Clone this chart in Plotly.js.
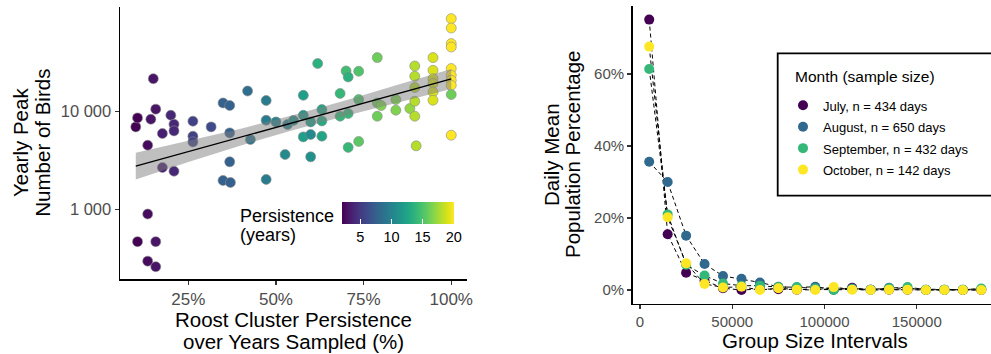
<!DOCTYPE html>
<html>
<head>
<meta charset="utf-8">
<script src="https://cdn.plot.ly/plotly-3.0.1.min.js"></script>
<style>html,body{margin:0;padding:0;background:#fff}#chart{width:991px;height:354px}</style>
</head>
<body>
<div id="chart"></div>
<script>
// ---------- Left panel data ----------
const persistPct = [10.0,10.5,10.5,13.4,13.4,13.4,14.3,15.0,15.7,15.7,15.7,17.6,17.6,20.0,20.9,20.9,20.9,
  26.3,26.3,26.3,31.5,34.9,36.8,36.8,36.8,34.9,37.0,41.9,42.7,47.2,47.2,47.2,50.0,52.6,53.3,55.0,
  57.8,57.8,57.8,59.9,59.9,59.9,61.9,63.1,63.1,63.1,68.3,68.3,70.0,70.6,70.6,70.6,73.6,73.6,73.6,
  78.9,78.9,78.9,80.0,84.2,84.2,88.2,89.6,89.6,89.6,89.6,89.6,90.0,94.8,94.8,94.8,94.8,94.8,94.8,
  100,100,100,100,100,100,100,100,100,100];
const peakBirds = [6920,8550,465,4500,890,294,8280,21500,10500,465,258,5920,2660,9100,7370,6300,2440,
  7910,5560,4860,6920,12150,11430,6010,3040,1960,1870,16100,5140,12860,8090,2010,7780,3610,7310,8040,
  9100,14560,5470,7780,5780,3420,30700,10400,7960,5560,15200,8890,25800,22400,9470,4270,25600,13160,4910,
  35300,8890,12150,11430,13160,10240,10650,29000,22750,17460,12650,8890,4430,35300,26200,21500,19200,15740,12950,
  88300,70800,49100,45300,27300,23300,20700,18400,14800,5690];
const persistYears = [2,2,2,2.5,2.5,2.5,3,3,3,3,3,3.5,3.5,4,4,4,4,
  5.5,5.5,5.5,6,7.5,7.5,7.5,7.5,7.5,7.5,8.5,9,9.5,9.5,9.5,10,10.5,10,11,
  11.5,12,12,12,10.5,11,13.5,12.5,13,12.5,14,14,14.5,13.5,14,14,15,15,15.5,
  16,16,16,16.5,16.5,16.5,17,18,18,18,18,18,18,19,19,19,19,19,19,
  20,20,20,20,20,20,20,20,16,20];
// fitted line (read at ends) and confidence band (read at several x)
const fitX = [10, 100];
const fitY = [2748, 21380];
const bandX = [10, 25, 40, 55, 70, 85, 100];
const bandUpper = [3758, 4955, 6622, 9162, 12972, 18707, 27040];
const bandLower = [2009, 3027, 4477, 6427, 8974, 12359, 16900];
const leftXTicks = [25, 50, 75, 100];
const leftXTickText = ['25%', '50%', '75%', '100%'];
const leftYTicks = [1000, 10000];
const leftYTickText = ['1 000', '10 000'];
const cbTicks = [5, 10, 15, 20];

// ---------- Right panel data ----------
const groupSize = [5000,15000,25000,35000,45000,55000,65000,75000,85000,95000,105000,115000,125000,135000,145000,155000,165000,175000,185000];
const months = ['July, n = 434 days','August, n = 650 days','September, n = 432 days','October, n = 142 days'];
const monthColors = ['#440154','#31688E','#35B779','#FDE725'];
const julyPct = [75.1,15.5,4.8,2.6,0.5,0.0,0.3,0.2,0.1,0.2,0.1,0.6,0.1,0.1,0.1,0.0,0.0,0.0,0.0];
const augPct  = [35.6,30.0,15.1,7.2,3.9,3.1,2.1,0.9,0.7,0.9,0.2,0.4,0.1,0.6,0.4,0.1,0.1,0.1,0.3];
const sepPct  = [61.4,21.0,7.0,4.0,1.8,1.2,1.2,0.8,0.8,0.4,0.0,0.2,0.1,0.5,0.8,0.1,0.1,0.1,0.4];
const octPct  = [67.6,20.2,7.4,1.7,0.7,0.9,0.0,0.5,0.1,0.0,0.8,0.1,0.0,0.1,0.1,0.0,0.0,0.0,0.0];
const monthSeries = [julyPct, augPct, sepPct, octPct];
const rightXTicks = [0, 50000, 100000, 150000];
const rightXTickText = ['0', '50000', '100000', '150000'];
const rightYTicks = [0, 20, 40, 60];
const rightYTickText = ['0%', '20%', '40%', '60%'];

// ---------- Build ----------
const W = 991, H = 354;
const px = v => v / W, py = v => 1 - v / H;
const FONT = 'Liberation Sans, Arial, Helvetica, sans-serif';
const TICKGREY = '#4d4d4d';

const traces = [];
traces.push({
  x: persistPct, y: peakBirds, type: 'scatter', mode: 'markers', xaxis: 'x', yaxis: 'y', showlegend: false,
  marker: { size: 10, color: persistYears, colorscale: 'Viridis', cmin: 2, cmax: 20,
    line: { color: '#8a8a8a', width: 0.6 },
    colorbar: { orientation: 'h', x: px(341.7), xanchor: 'left', y: py(201.7), yanchor: 'top',
      xref: 'paper', yref: 'paper', len: 111.6, lenmode: 'pixels', thickness: 21.6, thicknessmode: 'pixels',
      xpad: 0, ypad: 0, outlinewidth: 0, tickvals: cbTicks, ticks: 'inside', ticklen: 5, tickcolor: '#ffffff',
      tickwidth: 1, tickfont: { family: FONT, size: 14.5, color: '#000' } } }
});
traces.push({
  x: bandX.concat(bandX.slice().reverse()), y: bandUpper.concat(bandLower.slice().reverse()),
  type: 'scatter', mode: 'lines', fill: 'toself', fillcolor: 'rgba(128,128,128,0.5)',
  line: { width: 0 }, xaxis: 'x', yaxis: 'y', showlegend: false, hoverinfo: 'skip'
});
traces.push({
  x: fitX, y: fitY, type: 'scatter', mode: 'lines', line: { color: '#000', width: 1.3 },
  xaxis: 'x', yaxis: 'y', showlegend: false
});
monthSeries.forEach((s, i) => {
  traces.push({ x: groupSize, y: s, type: 'scatter', mode: 'lines', xaxis: 'x2', yaxis: 'y2',
    line: { color: '#000', width: 1, dash: '4px,3px' }, showlegend: false });
});
monthSeries.forEach((s, i) => {
  traces.push({ x: groupSize, y: s, type: 'scatter', mode: 'markers', xaxis: 'x2', yaxis: 'y2',
    name: '<span style="font-size:13px">' + months[i] + '</span>',
    marker: { size: 10, color: monthColors[i] }, showlegend: true });
});

const axisCommon = { showgrid: false, zeroline: false, showline: true, linecolor: '#000', linewidth: 1.5,
  ticks: 'outside', ticklen: 4, tickcolor: '#333', tickwidth: 1.2, tickmode: 'array' };

const ann = (text, x, y, size, opts) => Object.assign({ text, x: px(x), y: py(y), xref: 'paper', yref: 'paper',
  showarrow: false, font: { family: FONT, size, color: '#000' }, xanchor: 'center', yanchor: 'middle' }, opts || {});

const layout = {
  width: W, height: H, margin: { l: 0, r: 0, t: 0, b: 0 }, paper_bgcolor: '#fff', plot_bgcolor: '#fff',
  font: { family: FONT },
  showlegend: true,
  xaxis: Object.assign({}, axisCommon, { domain: [px(120), px(467)], range: [5.5, 104.5], anchor: 'y',
    tickvals: leftXTicks, ticktext: leftXTickText, tickfont: { family: FONT, size: 17, color: TICKGREY } }),
  yaxis: Object.assign({}, axisCommon, { domain: [py(279), py(7)], type: 'log', range: [2.286, 5.065], anchor: 'x',
    tickvals: leftYTicks, ticktext: leftYTickText, tickfont: { family: FONT, size: 16.5, color: TICKGREY } }),
  xaxis2: Object.assign({}, axisCommon, { domain: [px(632.6), 1], range: [-4000, 190250], anchor: 'y2',
    tickvals: rightXTicks, ticktext: rightXTickText, tickfont: { family: FONT, size: 15, color: TICKGREY } }),
  yaxis2: Object.assign({}, axisCommon, { domain: [py(303.5), py(6.1)], range: [-3.75, 78.85], anchor: 'x2',
    tickvals: rightYTicks, ticktext: rightYTickText, tickfont: { family: FONT, size: 15, color: TICKGREY } }),
  legend: { x: px(783), xanchor: 'left', y: py(89.5), yanchor: 'top', bgcolor: 'rgba(0,0,0,0)', borderwidth: 0,
    font: { family: FONT, size: 14.2, color: '#000' }, traceorder: 'normal' },
  shapes: [{ type: 'rect', xref: 'paper', yref: 'paper', x0: px(777.7), x1: px(1000), y0: py(195.7), y1: py(53.3),
    line: { color: '#000', width: 1.8 }, fillcolor: 'rgba(0,0,0,0)' }],
  annotations: [
    ann('Yearly Peak', 20, 143, 20.5, { textangle: -90 }),
    ann('Number of Birds', 41.7, 143, 20.5, { textangle: -90 }),
    ann('Roost Cluster Persistence', 293.5, 319, 20.5),
    ann('over Years Sampled (%)', 293.5, 341.7, 20.5),
    ann('Persistence', 238.3, 215.7, 18, { xanchor: 'left' }),
    ann('(years)', 238.3, 235, 18, { xanchor: 'left' }),
    ann('Group Size Intervals', 814.8, 340, 20.5),
    ann('Daily Mean', 551, 155, 20.5, { textangle: -90 }),
    ann('Population Percentage', 572, 155, 20.5, { textangle: -90 }),
    ann('Month (sample size)', 793, 77, 15.5, { xanchor: 'left' })
  ]
};

Plotly.newPlot('chart', traces, layout, { staticPlot: true, displayModeBar: false });
</script>
</body>
</html>
